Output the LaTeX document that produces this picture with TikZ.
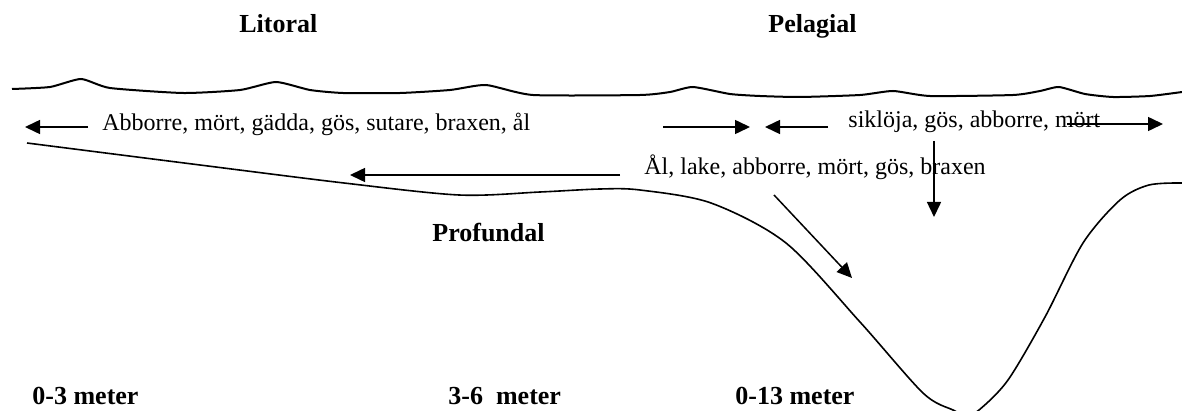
\documentclass[tikz,border=0pt]{standalone}
\usepackage{fontspec}
\setmainfont{Liberation Serif}
\usetikzlibrary{arrows.meta}
\begin{document}
\begin{tikzpicture}[x=0.5pt,y=-0.5pt,
  lbl/.style={anchor=base west, inner sep=0pt, font=\fontsize{12}{14}\selectfont},
  zone/.style={anchor=base west, inner sep=0pt, font=\fontsize{13}{15}\selectfont\bfseries},
  flow/.style={-{Triangle[length=7.5pt,width=7pt]}, line width=0.75pt},
  ground/.style={line width=0.8pt},
  water/.style={line width=1pt}]
\clip (0,0) rectangle (1182,411);

% zone names and depths
\node[zone] (litoral)   at (239,33)  {Litoral};
\node[zone] (pelagial)  at (768,33)  {Pelagial};
\node[zone] (profundal) at (432,242) {Profundal};
\node[zone] (d1) at (32,404)  {0-3 meter};
\node[zone] (d2) at (448,404) {3-6\ \ meter};
\node[zone] (d3) at (735,404) {0-13 meter};

% species lists
\node[lbl] (shore) at (102,131) {Abborre, mört, gädda, gös, sutare, braxen, ål};
\node[lbl] (open)  at (848,128) {siklöja, gös, abborre, mört};
\node[lbl] (deep)  at (644,175) {Ål, lake, abborre, mört, gös, braxen};

% water surface
\draw[water] plot[smooth, tension=0.35] coordinates {
  (12,89) (50,87) (81,79) (110,88) (183,93) (240,90) (276,82) (310,90)
  (343,93) (400,93) (450,90) (486,85) (533,95) (640,95) (670,92)
  (693,87) (730,94) (760,96) (800,97) (860,95) (893,91) (930,96)
  (1013,95) (1040,91) (1059,87) (1085,94) (1113,97) (1150,96) (1182,92)};

% lake bottom
\draw[ground] plot[smooth, tension=0.5] coordinates {
  (27,143) (200,165) (344,183) (459,195) (540,192) (600,189) (640,190)
  (711,203) (786,243) (860,322) (923,393) (953,410) (966,415)
  (979,410) (1008,380) (1045,317) (1083,243) (1120,200) (1149,185) (1182,183)};

% movement arrows
\coordinate (a1s) at (88,127);   \coordinate (a1e) at (25,127);
\coordinate (a2s) at (663,127);  \coordinate (a2e) at (750,127);
\coordinate (a3s) at (828,127);  \coordinate (a3e) at (765,127);
\coordinate (a4s) at (1067,124); \coordinate (a4e) at (1163,124);
\coordinate (a5s) at (620,175);  \coordinate (a5e) at (350,175);
\coordinate (a6s) at (774,195);  \coordinate (a6e) at (852,278);
\coordinate (a7s) at (934,141);  \coordinate (a7e) at (934,217);
\foreach \s/\e in {a1s/a1e,a2s/a2e,a3s/a3e,a4s/a4e,a5s/a5e,a6s/a6e,a7s/a7e}
  \draw[flow] (\s) -- (\e);
\end{tikzpicture}
\end{document}
